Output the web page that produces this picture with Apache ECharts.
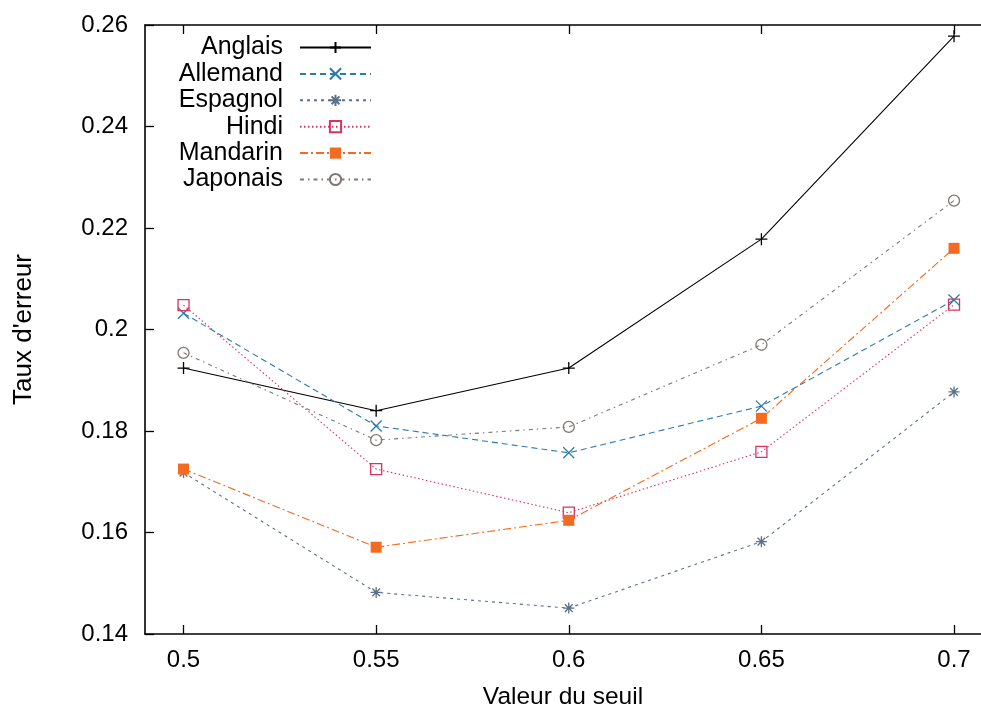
<!DOCTYPE html>
<html lang="fr">
<head>
    <meta charset="UTF-8">
    <script src="https://cdn.jsdelivr.net/npm/echarts@6/dist/echarts.min.js"></script>
    <title>Taux d'erreur selon le seuil</title>
    <style>
        html, body { margin: 0; padding: 0; background: #fff; }
    </style>
</head>
<body>
<div id="main" style="width: 981px;height:715px;"></div>
<script type="text/javascript">
    // valeurs du seuil (axe x)
    var seuils = [0.5, 0.55, 0.6, 0.65, 0.7];
    var yTicks = [0.14, 0.16, 0.18, 0.2, 0.22, 0.24, 0.26];

    // taux d'erreur par langue
    var anglais  = [0.1924, 0.1840, 0.1924, 0.2178, 0.2578];
    var allemand = [0.2032, 0.1810, 0.1757, 0.1849, 0.2058];
    var espagnol = [0.1718, 0.1482, 0.1451, 0.1582, 0.1877];
    var hindi    = [0.2048, 0.1725, 0.1639, 0.1759, 0.2049];
    var mandarin = [0.1725, 0.1571, 0.1624, 0.1825, 0.2160];
    var japonais = [0.1954, 0.1782, 0.1808, 0.1970, 0.2254];

    var FONT = 'Liberation Sans';

    function pairs(arr) {
        var out = [];
        for (var i = 0; i < seuils.length; i++) {
            out.push([seuils[i], arr[i]]);
        }
        return out;
    }

    function serie(name, data, color, lineType, symbol, size, filled) {
        return {
            name: name,
            type: 'line',
            data: pairs(data),
            symbol: symbol,
            symbolSize: size,
            lineStyle: { color: color, width: 1.1, type: lineType },
            itemStyle: filled
                ? { color: color, borderWidth: 0 }
                : { color: 'transparent', borderColor: color, borderWidth: 1.3 },
            emphasis: { disabled: true }
        };
    }

    var PLUS = 'path://M0,5L10,5M5,0L5,10';
    var CROSS = 'path://M0,0L10,10M0,10L10,0';
    var STAR = 'path://M0,5L10,5M5,0L5,10M1.5,1.5L8.5,8.5M1.5,8.5L8.5,1.5';

    var myChart = echarts.init(document.getElementById('main'));

    var option = {
        animation: false,
        textStyle: { fontFamily: FONT },
        grid: { left: 145, top: 25, right: 0, bottom: 79 },
        legend: {
            orient: 'vertical',
            left: 173,
            top: 35,
            padding: 0,
            align: 'right',
            itemWidth: 71,
            itemHeight: 14,
            itemGap: 1.4,
            textStyle: {
                fontFamily: FONT,
                fontSize: 25,
                color: '#000',
                width: 110,
                align: 'right',
                lineHeight: 22,
                padding: [0, 12, 0, 0]
            },
            data: ['Anglais', 'Allemand', 'Espagnol', 'Hindi', 'Mandarin', 'Japonais']
        },
        xAxis: [
            {
                type: 'value',
                min: 0.49,
                max: 0.707,
                name: 'Valeur du seuil',
                nameLocation: 'middle',
                nameGap: 51,
                nameTextStyle: { fontFamily: FONT, fontSize: 24.5, color: '#000' },
                axisLine: { lineStyle: { color: '#000', width: 1.6 } },
                axisTick: { inside: true, length: 9, customValues: seuils, lineStyle: { color: '#000', width: 1.3 } },
                axisLabel: { customValues: seuils, fontSize: 24, color: '#000', margin: 14, fontFamily: FONT },
                splitLine: { show: false }
            },
            {
                type: 'value',
                position: 'top',
                min: 0.49,
                max: 0.707,
                axisLine: { lineStyle: { color: '#000', width: 1.6 } },
                axisTick: { inside: true, length: 9, customValues: seuils, lineStyle: { color: '#000', width: 1.3 } },
                axisLabel: { show: false },
                splitLine: { show: false }
            }
        ],
        yAxis: {
            type: 'value',
            min: 0.14,
            max: 0.26,
            interval: 0.02,
            name: "Taux d'erreur",
            nameLocation: 'middle',
            nameGap: 108,
            nameTextStyle: { fontFamily: FONT, fontSize: 26, color: '#000' },
            axisLine: { show: true, lineStyle: { color: '#000', width: 1.6 } },
            axisTick: { show: true, inside: true, length: 9, lineStyle: { color: '#000', width: 1.3 } },
            axisLabel: { fontSize: 24, color: '#000', margin: 17, fontFamily: FONT },
            splitLine: { show: false }
        },
        series: [
            serie('Anglais', anglais, '#000000', 'solid', PLUS, 12, false),
            serie('Allemand', allemand, '#2b7bab', [6, 4], CROSS, 11, false),
            serie('Espagnol', espagnol, '#5c7089', [3, 4], STAR, 11, false),
            serie('Hindi', hindi, '#d8345f', [1.5, 2.5], 'rect', 11, false),
            serie('Mandarin', mandarin, '#f26b21', [8, 3, 2, 3], 'rect', 11, true),
            serie('Japonais', japonais, '#7f7873', [4, 4, 1.5, 4], 'circle', 11, false)
        ]
    };

    myChart.setOption(option);
</script>
</body>
</html>
